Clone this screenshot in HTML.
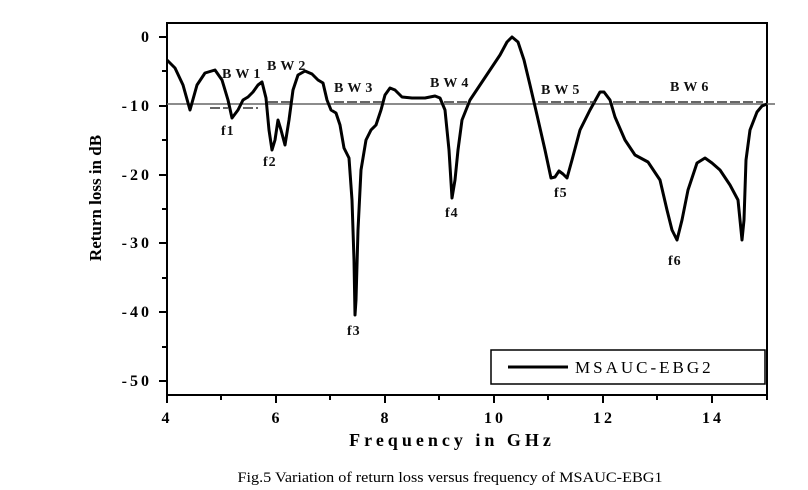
<!DOCTYPE html>
<html><head><style>body{margin:0;background:#fff}svg{display:block}</style></head><body>
<svg width="808" height="490" xmlns="http://www.w3.org/2000/svg" font-family="Liberation Serif, serif">
<rect x="167" y="23" width="600" height="372" fill="none" stroke="#000" stroke-width="2"/>
<g stroke="#000" stroke-width="2">
<line x1="159" y1="37" x2="167" y2="37"/><line x1="159" y1="106" x2="167" y2="106"/><line x1="159" y1="175" x2="167" y2="175"/><line x1="159" y1="243" x2="167" y2="243"/><line x1="159" y1="312" x2="167" y2="312"/><line x1="159" y1="381" x2="167" y2="381"/>
<line x1="162" y1="71" x2="167" y2="71"/><line x1="162" y1="140" x2="167" y2="140"/><line x1="162" y1="209" x2="167" y2="209"/><line x1="162" y1="278" x2="167" y2="278"/><line x1="162" y1="347" x2="167" y2="347"/>
<line x1="167" y1="395" x2="167" y2="403"/><line x1="276" y1="395" x2="276" y2="403"/><line x1="385" y1="395" x2="385" y2="403"/><line x1="494" y1="395" x2="494" y2="403"/><line x1="603" y1="395" x2="603" y2="403"/><line x1="712" y1="395" x2="712" y2="403"/>
<line x1="221" y1="395" x2="221" y2="400"/><line x1="330" y1="395" x2="330" y2="400"/><line x1="439" y1="395" x2="439" y2="400"/><line x1="548" y1="395" x2="548" y2="400"/><line x1="657" y1="395" x2="657" y2="400"/><line x1="767" y1="395" x2="767" y2="400"/>
</g>
<g font-size="16" font-weight="bold" text-anchor="end" letter-spacing="3">
<text x="152" y="42">0</text><text x="152" y="111">-10</text><text x="152" y="180">-20</text><text x="152" y="248">-30</text><text x="152" y="317">-40</text><text x="152" y="386">-50</text>
</g>
<g font-size="16" font-weight="bold" text-anchor="middle" letter-spacing="3">
<text x="167" y="423">4</text><text x="277" y="423">6</text><text x="386" y="423">8</text><text x="495" y="423">10</text><text x="604" y="423">12</text><text x="713" y="423">14</text>
</g>
<text x="452" y="446" font-size="18" font-weight="bold" text-anchor="middle" letter-spacing="4">Frequency in GHz</text>
<text transform="translate(101,198) rotate(-90)" font-size="17" font-weight="bold" text-anchor="middle">Return loss in dB</text>
<text x="450" y="482" font-size="15" text-anchor="middle" textLength="425" lengthAdjust="spacingAndGlyphs">Fig.5 Variation of return loss versus frequency of MSAUC-EBG1</text>
<line x1="167" y1="104" x2="775" y2="104" stroke="#666" stroke-width="1.5"/>
<polyline fill="none" stroke="#000" stroke-width="3" stroke-linejoin="round" points="167,60 175,68 183,85 190,110 197,85 205,73 215,70 222,80 228,100 232,118 238,110 243,100 248,97 253,92 258,85 262,82 266,98 269,130 272,150 275,140 278,120 281,130 285,145 289,120 293,90 298,75 305,71 312,74 318,80 323,83 327,100 331,110 336,113 340,125 344,148 349,158 352,200 354,260 355,315 356,300 358,230 361,170 366,140 371,130 376,125 381,110 385,95 390,88 395,90 402,97 412,98 425,98 435,96 440,98 445,110 449,150 452,198 455,180 458,150 462,120 470,100 480,85 490,70 500,55 507,42 512,37 518,42 524,60 530,85 537,115 545,150 551,178 555,177 559,171 563,174 567,178 572,160 580,130 590,110 600,92 604,92 610,100 615,117 625,140 635,155 648,162 660,180 667,210 672,230 677,240 682,220 688,190 697,163 705,158 712,163 720,170 730,185 738,200 742,240 744,220 746,160 750,130 757,112 762,106 767,104"/>
<g stroke="#333" stroke-width="1.5" stroke-dasharray="10,3">
<line x1="210" y1="108" x2="228" y2="108"/><line x1="243" y1="108" x2="258" y2="108"/>
<line x1="268" y1="102" x2="290" y2="102"/><line x1="334" y1="102" x2="382" y2="102"/>
<line x1="444" y1="102" x2="470" y2="102"/><line x1="538" y1="102" x2="595" y2="102"/><line x1="613" y1="102" x2="763" y2="102"/>
</g>
<g font-size="14" font-weight="bold" fill="#111" letter-spacing="4">
<text x="222" y="78">BW1</text><text x="267" y="70">BW2</text><text x="334" y="92">BW3</text><text x="430" y="87">BW4</text><text x="541" y="94">BW5</text><text x="670" y="91">BW6</text>
</g>
<g font-size="14" font-weight="bold" fill="#111" letter-spacing="1">
<text x="221" y="135">f1</text><text x="263" y="166">f2</text><text x="347" y="335">f3</text><text x="445" y="217">f4</text><text x="554" y="197">f5</text><text x="668" y="265">f6</text>
</g>
<rect x="491" y="350" width="274" height="34" fill="#fff" stroke="#000" stroke-width="1.5"/>
<line x1="508" y1="367" x2="568" y2="367" stroke="#000" stroke-width="3"/>
<text x="575" y="373" font-size="17" letter-spacing="3">MSAUC-EBG2</text>
</svg>
</body></html>
